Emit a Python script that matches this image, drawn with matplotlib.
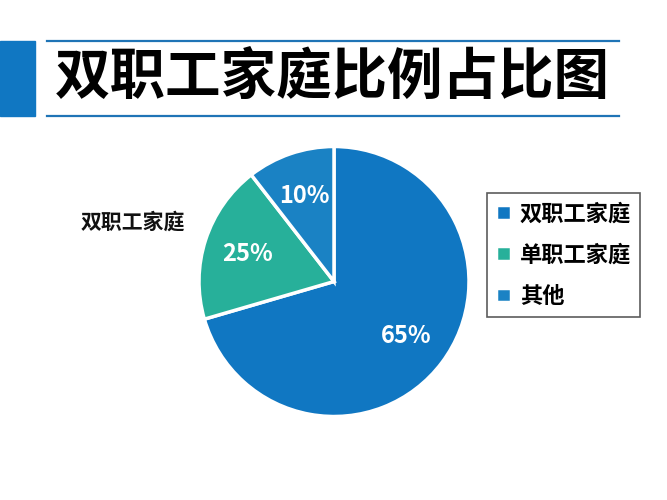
import numpy as np
import matplotlib.pyplot as plt
from matplotlib.patches import Rectangle
from matplotlib.lines import Line2D

plt.rcParams['font.family'] = ['Noto Sans CJK SC', 'DejaVu Sans']

title = '双职工家庭比例占比图'
categories = ['双职工家庭', '单职工家庭', '其他']
# wedge sizes as drawn in the picture (the printed labels differ)
sizes = [70.5, 19.0, 10.5]
pct_labels = ['65%', '25%', '10%']
colors = ['#1077c2', '#27b09a', '#1a82c4']
side_label = '双职工家庭'

W, H = 667, 500
fig = plt.figure(figsize=(W / 100, H / 100), dpi=100)
fig.patch.set_facecolor('white')

# title band
fig.patches.append(Rectangle((0, 1 - 116 / H), 35 / W, 75 / H,
                             transform=fig.transFigure, color='#1077c2'))
for y in (41, 116):
    fig.lines.append(Line2D([47 / W, 619 / W], [1 - y / H, 1 - y / H],
                            transform=fig.transFigure, color='#1f74b6', lw=1.6))
fig.text(332 / W, 1 - 78 / H, title, ha='center', va='center',
         fontsize=40, fontweight='heavy', color='black')

# pie
cx, cy, r = 334, 281.5, 135
ax = fig.add_axes([(cx - r) / W, 1 - (cy + r) / H, 2 * r / W, 2 * r / H])
wedges, _ = ax.pie(sizes, colors=colors, startangle=90, counterclock=False,
                   wedgeprops=dict(edgecolor='white', linewidth=2.5))
ax.set_xlim(-1, 1)
ax.set_ylim(-1, 1)
for w, lab in zip(wedges, pct_labels):
    a = np.deg2rad((w.theta1 + w.theta2) / 2)
    ax.text(0.67 * np.cos(a), 0.67 * np.sin(a), lab, ha='center', va='center',
            color='white', fontsize=17, fontweight='bold')

fig.text(133 / W, 1 - 222 / H, side_label, ha='center', va='center',
         fontsize=15, fontweight='bold', color='#111111')

leg = fig.legend(wedges, categories, loc='upper left',
                 bbox_to_anchor=(487 / W, 1 - 193 / H), borderaxespad=0,
                 frameon=True, fancybox=False, edgecolor='#333333',
                 handlelength=0.65, handleheight=0.65, handletextpad=0.4,
                 labelspacing=0.82, borderpad=0.42,
                 prop=dict(size=16, weight='bold'))
leg.get_frame().set_linewidth(1.2)

fig.savefig('out.png', dpi=100, facecolor='white')
